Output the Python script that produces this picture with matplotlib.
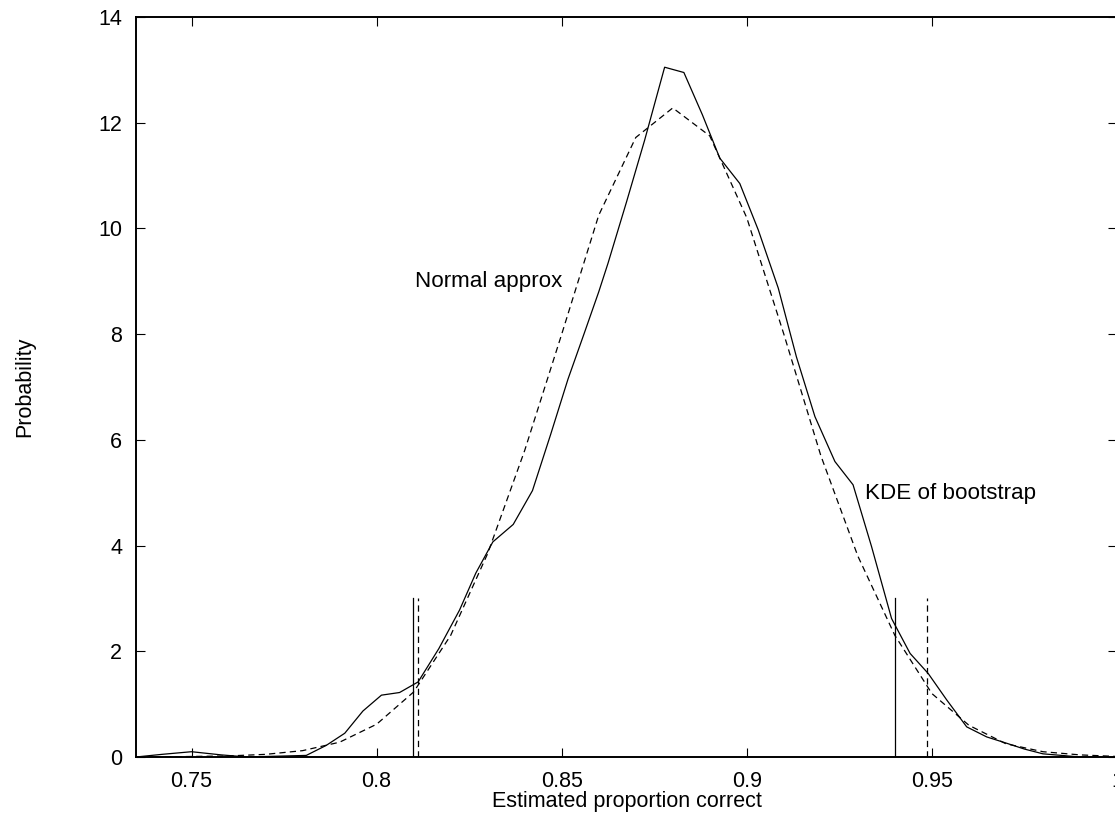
#!/usr/bin/env python3
"""
kde vs normal approximation of the bootstrap proportion correct
"""
import matplotlib
matplotlib.use('Agg')
import matplotlib.pyplot as plt

# KDE of bootstrap (solid)
kde_x = [0.735, 0.742, 0.750, 0.758, 0.765, 0.781, 0.7864, 0.7914, 0.7963, 0.8013,
	0.8062, 0.8112, 0.8168, 0.8224, 0.8268, 0.8314, 0.8369, 0.8421, 0.8470, 0.8517,
	0.8560, 0.8600, 0.8625, 0.8675, 0.8724, 0.8778, 0.8830, 0.8880, 0.8927, 0.8981,
	0.9031, 0.9085, 0.9134, 0.9184, 0.9238, 0.9287, 0.9337, 0.9391, 0.9441, 0.9490,
	0.9540, 0.9594, 0.9648, 0.9702, 0.9750, 0.9800, 0.9900, 1.0]
kde_y = [0.0, 0.05, 0.10, 0.04, 0.0, 0.03, 0.22, 0.45, 0.87, 1.17,
	1.22, 1.42, 2.05, 2.78, 3.48, 4.07, 4.40, 5.04, 6.10, 7.15,
	8.0, 8.8, 9.34, 10.5, 11.67, 13.05, 12.95, 12.15, 11.33, 10.85,
	9.97, 8.87, 7.57, 6.44, 5.59, 5.15, 3.98, 2.62, 1.96, 1.58,
	1.08, 0.57, 0.38, 0.26, 0.15, 0.06, 0.0, 0.0]

# normal approximation (dashed)
norm_x = [0.74, 0.75, 0.76, 0.77, 0.78, 0.79, 0.80, 0.81, 0.82, 0.83, 0.84, 0.85, 0.86,
	0.87, 0.88, 0.89, 0.90, 0.91, 0.92, 0.93, 0.94, 0.95, 0.96, 0.97, 0.98, 0.99, 1.0]
norm_y = [0.0, 0.01, 0.02, 0.05, 0.12, 0.28, 0.62, 1.23, 2.3, 3.85, 5.8, 8.0, 10.25,
	11.72, 12.28, 11.75, 10.2, 8.0, 5.7, 3.8, 2.3, 1.2, 0.6, 0.25, 0.1, 0.04, 0.01]

# confidence interval markers
kde_ci = [0.8099, 0.9400]
norm_ci = [0.8113, 0.9486]
ci_height = 3

xticks = [0.75, 0.8, 0.85, 0.9, 0.95, 1.0]
xticklabels = ['0.75', '0.8', '0.85', '0.9', '0.95', '1']
yticks = [0, 2, 4, 6, 8, 10, 12, 14]


def start():
	plt.rcParams['font.family'] = ['Liberation Sans', 'DejaVu Sans']
	plt.rcParams['lines.scale_dashes'] = False
	fs = 15.5
	fs_label = 16.1

	fig = plt.figure(figsize=(11.15, 8.16), dpi=100)
	ax = fig.add_axes([136/1115, 59/816, 981/1115, 740/816])

	lw = 0.9
	dash = (4.5, 3)
	ax.plot(kde_x, kde_y, color='black', lw=lw)
	ax.plot(norm_x, norm_y, color='black', lw=lw, dashes=dash)
	for x in kde_ci:
		ax.plot([x, x], [0, ci_height], color='black', lw=lw)
	for x in norm_ci:
		ax.plot([x, x], [0, ci_height], color='black', lw=lw, dashes=dash)

	ax.text(0.8103, 9.0, 'Normal approx', fontsize=fs_label, ha='left', va='center')
	ax.text(0.9319, 4.99, 'KDE of bootstrap', fontsize=fs_label, ha='left', va='center')

	ax.set_xlim(0.735, 1.0)
	ax.set_ylim(0, 14)
	ax.set_xticks(xticks)
	ax.set_xticklabels(xticklabels)
	ax.set_yticks(yticks)
	ax.tick_params(direction='in', length=6.5, width=0.8, top=True, right=True,
		labelsize=fs)
	ax.tick_params(axis='x', pad=10)
	ax.tick_params(axis='y', pad=10)
	for sp in ax.spines.values():
		sp.set_linewidth(1.4)

	ax.set_xlabel('Estimated proportion correct', fontsize=fs)
	ax.xaxis.set_label_coords(0.5, -0.0595)
	ax.xaxis.label.set_va('center')
	ax.set_ylabel('Probability', fontsize=fs)
	ax.yaxis.set_label_coords(-0.1131, 0.5)
	ax.yaxis.label.set_va('center')

	fig.savefig('out.png', dpi=100)

if __name__ == '__main__': start()
